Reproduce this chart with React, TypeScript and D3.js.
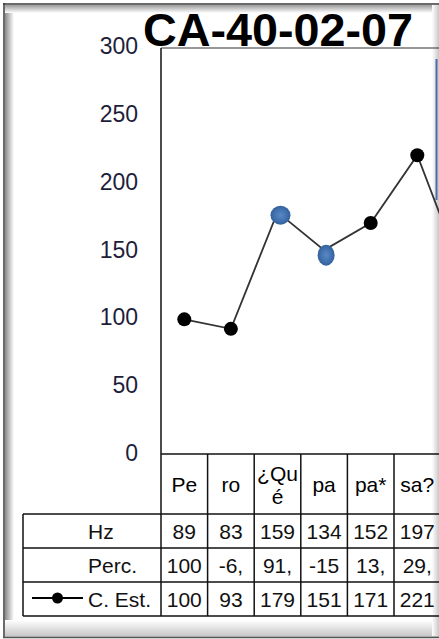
import React from "react";
import * as d3 from "d3";

const title = "CA-40-02-07";
const categories = ["Pe", "ro", "¿Qu|é", "pa", "pa*", "sa?", ""];
const hzValues = ["89", "83", "159", "134", "152", "197", ""];
const percValues = ["100", "-6,", "91,", "-15", "13,", "29,", ""];
const estValues = [100, 93, 179, 151, 171, 221, 131];
const highlighted = [2, 3];
const yTicks = [0, 50, 100, 150, 200, 250, 300];
const rowLabels = ["Hz", "Perc.", "C. Est."];

const W = 439;
const H = 639;
const plotLeft = 161;
const plotTop = 48;
const axisY = 454;
const step = 46.6;
const font = "'Liberation Sans', Arial, sans-serif";

export default function App() {
  const x = d3
    .scaleBand<string>()
    .domain(categories.map((c, i) => String(i)))
    .range([plotLeft, plotLeft + step * categories.length])
    .padding(0);
  const y = d3.scaleLinear().domain([0, 300]).range([455, 48]);
  const cx = (i: number) => (x(String(i)) as number) + x.bandwidth() / 2;

  const line = d3
    .line<number>()
    .x((_, i) => cx(i))
    .y((d) => y(d));

  const headerBottom = 514;
  const rowH = 34;
  const tableLeft = 23;
  const tableBottom = headerBottom + rowH * 3;
  const rows = [hzValues, percValues, estValues.map(String).map((v, i) => (i < 6 ? v : ""))];

  return (
    <svg
      width={W}
      height={H}
      style={{ position: "absolute", left: 0, top: 0, background: "#fff" }}
      fontFamily={font}
    >
      <defs>
        <linearGradient id="gl" x1="0" x2="1" y1="0" y2="0">
          <stop offset="0" stopColor="#8a8a8a" />
          <stop offset="1" stopColor="#ffffff" />
        </linearGradient>
        <linearGradient id="gt" x1="0" x2="0" y1="0" y2="1">
          <stop offset="0" stopColor="#9a9a9a" />
          <stop offset="1" stopColor="#ffffff" />
        </linearGradient>
        <linearGradient id="gb" x1="0" x2="0" y1="0" y2="1">
          <stop offset="0" stopColor="#ffffff" />
          <stop offset="1" stopColor="#c4c4c4" />
        </linearGradient>
        <linearGradient id="gr" x1="0" x2="1" y1="0" y2="0">
          <stop offset="0" stopColor="#ffffff" />
          <stop offset="1" stopColor="#c8c8c8" />
        </linearGradient>
        <radialGradient id="blue" cx="0.5" cy="0.5" r="0.5">
          <stop offset="0" stopColor="#5a88c4" />
          <stop offset="0.6" stopColor="#4272b0" />
          <stop offset="1" stopColor="#34609c" />
        </radialGradient>
        <clipPath id="clip">
          <rect x={0} y={0} width={W} height={H} />
        </clipPath>
      </defs>
      <rect x={0} y={0} width={W} height={H} fill="#fff" />
      {/* frame */}
      <rect x={5} y={5} width={9} height={H - 8} fill="url(#gl)" />
      <rect x={5} y={5} width={W} height={8} fill="url(#gt)" />
      <rect x={5} y={620} width={W} height={17} fill="url(#gb)" />
      <rect x={432} y={5} width={7} height={H - 8} fill="url(#gr)" />
      <line x1={4} x2={4} y1={3} y2={638} stroke="#3a3a3a" strokeWidth={1.5} />
      <line x1={3} x2={W} y1={4} y2={4} stroke="#3a3a3a" strokeWidth={1.5} />
      <line x1={3} x2={W} y1={637.5} y2={637.5} stroke="#555" strokeWidth={1.5} />
      <line x1={436.5} x2={436.5} y1={59} y2={200} stroke="#4a6fa8" strokeWidth={2} />

      {/* title */}
      <text
        x={143}
        y={46}
        fontSize={47}
        fontWeight="bold"
        fill="#000"
        textLength={270}
        lengthAdjust="spacingAndGlyphs"
      >
        {title}
      </text>

      {/* y ticks */}
      {yTicks.map((t) => (
        <text
          key={t}
          x={138}
          y={y(t) - 2}
          fontSize={23}
          textAnchor="end"
          dominantBaseline="central"
          fill="#1e1e3a"
        >
          {t}
        </text>
      ))}

      {/* plot frame */}
      <line x1={plotLeft} x2={plotLeft} y1={plotTop} y2={tableBottom} stroke="#111" strokeWidth={1.5} />
      <line x1={plotLeft} x2={W} y1={plotTop} y2={plotTop} stroke="#333" strokeWidth={1.2} />

      {/* series */}
      <g clipPath="url(#clip)">
        <path d={line(estValues) || ""} fill="none" stroke="#333" strokeWidth={1.8} />
        {estValues.map((v, i) =>
          highlighted.includes(i) ? (
            <ellipse
              key={i}
              cx={cx(i) + (i === 2 ? 3 : 2)}
              cy={y(v) + (i === 2 ? 3 : 5)}
              rx={i === 2 ? 10 : 8.5}
              ry={i === 2 ? 9.5 : 10.5}
              fill="url(#blue)"
            />
          ) : (
            <circle key={i} cx={cx(i)} cy={y(v)} r={7} fill="#000" />
          )
        )}
      </g>

      {/* table */}
      <g stroke="#111" strokeWidth={1.5}>
        <line x1={plotLeft} x2={W} y1={axisY} y2={axisY} />
        {[headerBottom, headerBottom + rowH, headerBottom + rowH * 2, tableBottom].map((yy) => (
          <line key={yy} x1={tableLeft} x2={W} y1={yy} y2={yy} />
        ))}
        <line x1={tableLeft} x2={tableLeft} y1={headerBottom} y2={tableBottom} />
        {categories.map((c, i) => {
          const xx = (x(String(i)) as number) + x.bandwidth();
          return <line key={i} x1={xx} x2={xx} y1={axisY} y2={tableBottom} />;
        })}
      </g>

      {/* category labels */}
      {categories.map((c, i) => {
        const parts = c.split("|");
        const cy0 = (axisY + headerBottom) / 2;
        return (
          <text key={i} x={cx(i)} fontSize={21} textAnchor="middle" fill="#000">
            {parts.map((p, j) => (
              <tspan
                key={j}
                x={cx(i)}
                y={cy0 + 8 + (j - (parts.length - 1) / 2) * 23}
              >
                {p}
              </tspan>
            ))}
          </text>
        );
      })}

      {/* row labels and values */}
      {rowLabels.map((lab, r) => {
        const yc = headerBottom + rowH * r + rowH / 2 + 8;
        return (
          <g key={lab}>
            <text x={88} y={yc} fontSize={21} fill="#111">
              {lab}
            </text>
            {rows[r].map((v, i) => (
              <text key={i} x={cx(i)} y={yc} fontSize={21} textAnchor="middle" fill="#111">
                {v}
              </text>
            ))}
          </g>
        );
      })}

      {/* legend key */}
      <line x1={32} x2={83} y1={598} y2={598} stroke="#000" strokeWidth={1.8} />
      <circle cx={57.5} cy={598} r={5.5} fill="#000" />
    </svg>
  );
}
